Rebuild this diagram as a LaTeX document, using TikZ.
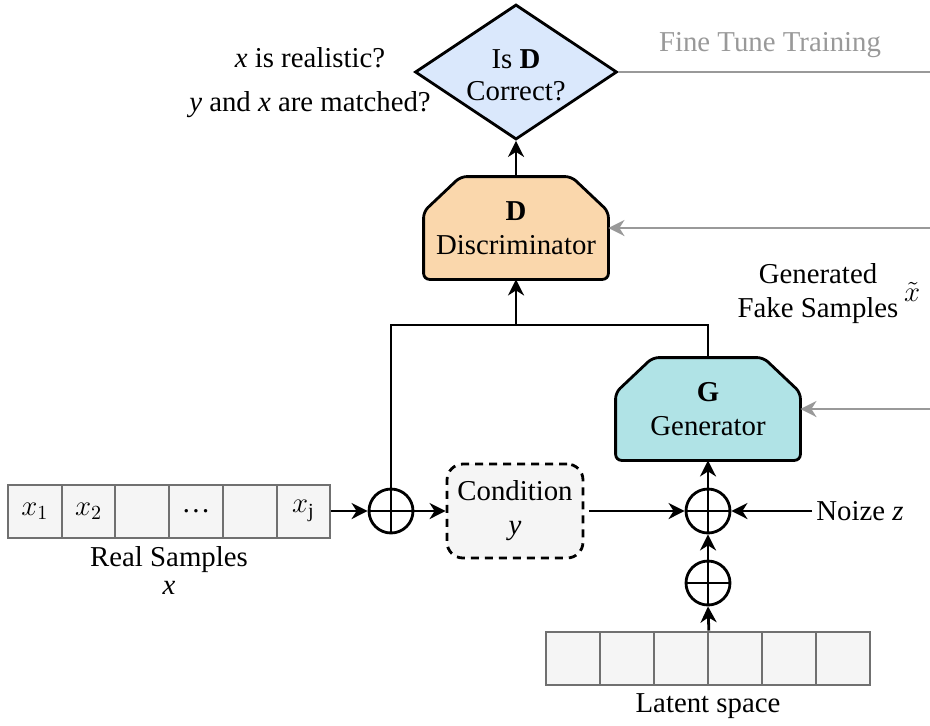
\documentclass[tikz,border=0pt]{standalone}
\usepackage{fontspec}
\setmainfont{Liberation Serif}
\newfontfamily\tms{Liberation Serif}
\usetikzlibrary{arrows.meta,shapes.geometric,backgrounds}
\definecolor{diafill}{HTML}{DAE8FC}
\definecolor{discfill}{HTML}{FAD7AC}
\definecolor{genfill}{HTML}{B0E3E6}
\definecolor{cellfill}{HTML}{F5F5F5}
\definecolor{cellline}{HTML}{707070}
\definecolor{fbgray}{HTML}{999999}

\begin{document}
\begin{tikzpicture}[x=0.5pt, y=-0.5pt,
  font=\tms\fontsize{14.4}{17}\selectfont,
  >={Stealth[length=8pt,width=8pt,inset=2.5pt]},
  wire/.style={line width=1.4pt},
  fb/.style={line width=1.3pt, fbgray},
  cell/.style={draw=cellline, fill=cellfill, line width=1pt,
    minimum width=26.85pt, minimum height=26.5pt, inner sep=0pt},
  net/.style={rectangle, inner sep=0pt, minimum width=92pt,
    minimum height=51pt, align=center},
  netline/.style={draw, line width=1.4pt, rounded corners=3pt},
  sum/.style={circle, draw, line width=1.4pt, minimum size=22pt, inner sep=0pt,
    path picture={\draw[line width=1.4pt]
      (path picture bounding box.north) -- (path picture bounding box.south)
      (path picture bounding box.west) -- (path picture bounding box.east);}},
  lb/.style={inner sep=2pt, align=center},
]
\useasboundingbox (0,0) rectangle (930,725);

% decision
\node[diamond, draw, line width=1.4pt, fill=diafill, inner sep=0pt,
  minimum width=101pt, minimum height=67.5pt] (dia) at (516,72) {};
\node[lb, anchor=center] (diat) at (516,75) {Is \textbf{D}\\[-1pt]Correct?};
\node[lb] (q1) at (310,58) {\textit{x} is realistic?};
\node[lb] (q2) at (310,105) {\textit{y} and \textit{x} are matched?};
\node[lb, text=fbgray] (ft) at (770,45) {Fine Tune Training};
\coordinate (ftend) at (930,72);

% networks
\node[net] (D) at (516,228) {\textbf{D}\\Discriminator};
\node[net] (G) at (708,409) {\textbf{G}\\Generator};
\begin{scope}[on background layer]
\foreach \n/\c in {D/discfill, G/genfill} {
  \draw[netline, fill=\c] (\n.south west) -- ([yshift=-17.5pt]\n.north west)
    -- ([xshift=18.5pt]\n.north west) -- ([xshift=-18.5pt]\n.north east)
    -- ([yshift=-17.5pt]\n.north east) -- (\n.south east) -- cycle;
}
\end{scope}
\coordinate (dfb) at (930,228);
\coordinate (gfb) at (930,409);
\node[lb] (gen) at (818,294) {Generated\\Fake Samples};
\node[lb] (xt) at (912,292) {$\tilde{x}$};

% real samples
\foreach \t [count=\i] in {$x_1$,$x_2$,,\ldots,,$x_{\mathrm{j}}$} {
  \node[cell] (r\i) at ({8+53.7*(\i-0.5)},511) {\t};
}
\node[lb] (rs) at (169,560) {Real Samples};
\node[lb] (rx) at (169,588) {\textit{x}};

% latent space
\foreach \i in {1,...,6} {
  \node[cell] (l\i) at ({546+54*(\i-0.5)},658) {};
}
\node[lb] (ls) at (708,706) {Latent space};

% joins
\node[sum] (c1) at (391,511) {};
\node[sum] (c2) at (708,511) {};
\node[sum] (c3) at (708,583) {};
\node[draw, dash pattern=on 4pt off 3pt, line width=1.4pt, fill=cellfill,
  rounded corners=8pt, minimum width=68pt, minimum height=47pt,
  align=center] (cond) at (515,511) {Condition\\\textit{y}};
\node[lb, anchor=west] (nz) at (812,511) {Noize \textit{z}};
\coordinate (j) at (516,325);

\draw[wire, ->] (D) -- (dia);
\draw[wire, ->] (j) -- (D);
\draw[wire] (c1.north) |- (j) -| (G.north);
\draw[wire, ->] (r6.east) -- (c1.west);
\draw[wire, ->] (c1.east) -- (cond.west);
\draw[wire, ->] ([xshift=2.5pt]cond.east) -- (c2.west);
\draw[wire, ->] (nz.west) -- (c2.east);
\draw[wire, ->] (c3.north) -- (c2.south);
\draw[wire, ->] (l3.north east) -- (c3.south);
\draw[wire, ->] (c2.north) -- (G.south);

\draw[fb] (dia.east) -- (ftend);
\draw[fb, ->] (dfb) -- (D.east);
\draw[fb, ->] (gfb) -- (G.east);
\end{tikzpicture}
\end{document}
